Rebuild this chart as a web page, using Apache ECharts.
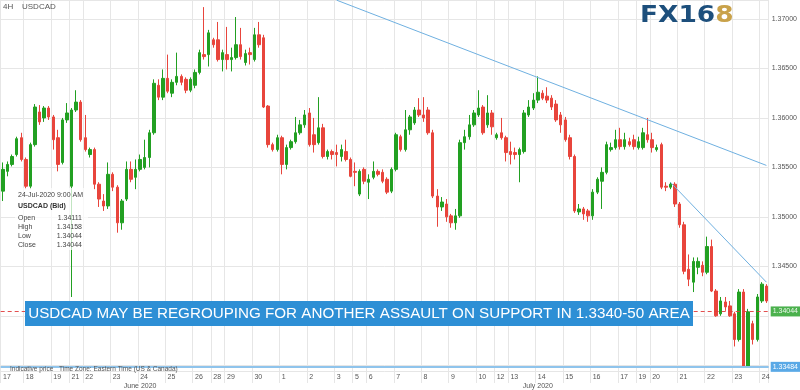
<!DOCTYPE html>
<html><head><meta charset="utf-8">
<script src="https://cdn.jsdelivr.net/npm/echarts/dist/echarts.min.js"></script>
<style>html,body{margin:0;padding:0;background:#fff}#c{width:800px;height:390px}</style>
</head><body><div id="c"></div>
<script>
// ---- data ----
const dayDates = ['2020-06-17','2020-06-18','2020-06-19','2020-06-21','2020-06-22','2020-06-23','2020-06-24','2020-06-25','2020-06-26','2020-06-28','2020-06-29','2020-06-30','2020-07-01','2020-07-02','2020-07-03','2020-07-05','2020-07-06','2020-07-07','2020-07-08','2020-07-09','2020-07-10','2020-07-12','2020-07-13','2020-07-14','2020-07-15','2020-07-16','2020-07-17','2020-07-19','2020-07-20','2020-07-21','2020-07-22','2020-07-23','2020-07-24'];
const dayLabels = ['17','18','19','21','22','23','24','25','26','28','29','30','1','2','3','5','6','7','8','9','10','12','13','14','15','16','17','19','20','21','22','23','24'];
const barsPerDay = [5,6,4,3,6,6,6,6,4,3,6,6,6,6,4,3,6,6,6,6,4,3,6,6,6,6,4,3,6,6,6,6,2];
const monthLabels = [['2020-06-24','June 2020'],['2020-07-14','July 2020']];
// [open, close, low, high]
const ohlc = [
[1.3526,1.3548,1.3516,1.3555],[1.3546,1.3553,1.3541,1.3556],[1.3553,1.3561,1.3551,1.3563],[1.3563,1.3579,1.3561,1.3581],[1.3580,1.3558,1.3556,1.3585],
[1.3558,1.3531,1.3528,1.3560],[1.3531,1.3573,1.3528,1.3575],[1.3573,1.3611,1.3571,1.3614],[1.3606,1.3596,1.3593,1.3613],[1.3600,1.3610,1.3596,1.3612],
[1.3610,1.3601,1.3598,1.3612],[1.3601,1.3578,1.3568,1.3603],[1.3580,1.3553,1.3546,1.3588],[1.3555,1.3598,1.3553,1.3600],[1.3598,1.3605,1.3595,1.3615],
[1.3531,1.3608,1.3419,1.3610],[1.3608,1.3616,1.3606,1.3628],[1.3616,1.3578,1.3576,1.3618],[1.3580,1.3568,1.3566,1.3603],[1.3563,1.3568,1.3560,1.3570],
[1.3568,1.3533,1.3528,1.3570],[1.3533,1.3518,1.3510,1.3535],[1.3516,1.3511,1.3506,1.3523],[1.3511,1.3543,1.3508,1.3555],[1.3543,1.3530,1.3526,1.3545],
[1.3530,1.3494,1.3484,1.3532],[1.3494,1.3516,1.3487,1.3518],[1.3518,1.3548,1.3516,1.3556],[1.3548,1.3538,1.3535,1.3556],[1.3540,1.3548,1.3528,1.3558],
[1.3548,1.3558,1.3546,1.3563],[1.3550,1.3560,1.3548,1.3578],[1.3560,1.3585,1.3550,1.3588],[1.3585,1.3635,1.3583,1.3639],[1.3633,1.3621,1.3618,1.3639],
[1.3621,1.3640,1.3618,1.3649],[1.3640,1.3627,1.3625,1.3664],[1.3625,1.3636,1.3621,1.3639],[1.3636,1.3642,1.3633,1.3666],[1.3642,1.3636,1.3633,1.3644],
[1.3639,1.3628,1.3625,1.3641],[1.3628,1.3639,1.3626,1.3641],[1.3633,1.3646,1.3630,1.3649],[1.3646,1.3666,1.3644,1.3669],[1.3664,1.3662,1.3659,1.3712],
[1.3664,1.3686,1.3652,1.3689],[1.3679,1.3674,1.3671,1.3681],[1.3679,1.3659,1.3657,1.3697],[1.3659,1.3666,1.3647,1.3669],[1.3664,1.3659,1.3649,1.3692],
[1.3659,1.3661,1.3647,1.3671],[1.3661,1.3674,1.3659,1.3702],[1.3674,1.3662,1.3659,1.3691],[1.3656,1.3665,1.3653,1.3669],[1.3666,1.3664,1.3654,1.3671],
[1.3659,1.3684,1.3657,1.3691],[1.3684,1.3674,1.3671,1.3697],[1.3681,1.3611,1.3610,1.3684],[1.3612,1.3573,1.3570,1.3613],[1.3573,1.3568,1.3566,1.3575],
[1.3568,1.3580,1.3566,1.3583],[1.3580,1.3553,1.3543,1.3582],[1.3553,1.3570,1.3548,1.3573],[1.3570,1.3576,1.3568,1.3578],[1.3576,1.3585,1.3574,1.3601],
[1.3585,1.3593,1.3583,1.3598],[1.3593,1.3603,1.3590,1.3608],[1.3605,1.3573,1.3571,1.3610],[1.3583,1.3573,1.3565,1.3600],[1.3575,1.3590,1.3573,1.3621],
[1.3590,1.3561,1.3559,1.3594],[1.3561,1.3566,1.3558,1.3568],[1.3566,1.3563,1.3558,1.3568],[1.3565,1.3563,1.3551,1.3573],[1.3561,1.3568,1.3556,1.3573],
[1.3566,1.3558,1.3556,1.3578],[1.3558,1.3541,1.3540,1.3560],[1.3546,1.3545,1.3531,1.3555],[1.3523,1.3546,1.3521,1.3548],[1.3548,1.3536,1.3533,1.3550],
[1.3535,1.3538,1.3518,1.3543],[1.3540,1.3546,1.3538,1.3556],[1.3546,1.3543,1.3541,1.3548],[1.3545,1.3536,1.3534,1.3548],[1.3538,1.3525,1.3523,1.3540],
[1.3526,1.3548,1.3524,1.3550],[1.3548,1.3583,1.3546,1.3585],[1.3581,1.3568,1.3566,1.3583],[1.3568,1.3588,1.3566,1.3608],[1.3588,1.3601,1.3583,1.3603],
[1.3595,1.3608,1.3593,1.3611],[1.3608,1.3603,1.3601,1.3620],[1.3603,1.3600,1.3596,1.3621],[1.3608,1.3585,1.3583,1.3611],[1.3585,1.3521,1.3519,1.3588],
[1.3521,1.3510,1.3490,1.3528],[1.3510,1.3515,1.3506,1.3520],[1.3513,1.3500,1.3495,1.3518],[1.3501,1.3494,1.3489,1.3503],[1.3494,1.3501,1.3487,1.3508],
[1.3501,1.3575,1.3499,1.3578],[1.3575,1.3581,1.3568,1.3588],[1.3581,1.3593,1.3578,1.3603],[1.3593,1.3605,1.3591,1.3608],[1.3603,1.3610,1.3601,1.3628],
[1.3611,1.3585,1.3583,1.3613],[1.3593,1.3605,1.3590,1.3623],[1.3605,1.3591,1.3583,1.3608],[1.3580,1.3583,1.3578,1.3585],[1.3585,1.3580,1.3578,1.3600],
[1.3580,1.3565,1.3556,1.3582],[1.3566,1.3563,1.3553,1.3576],[1.3565,1.3563,1.3558,1.3570],[1.3563,1.3568,1.3535,1.3570],[1.3566,1.3605,1.3564,1.3608],
[1.3603,1.3611,1.3601,1.3618],[1.3610,1.3618,1.3608,1.3625],[1.3618,1.3626,1.3615,1.3642],[1.3625,1.3620,1.3618,1.3628],[1.3622,1.3618,1.3615,1.3631],
[1.3620,1.3611,1.3608,1.3623],[1.3614,1.3598,1.3596,1.3618],[1.3603,1.3593,1.3585,1.3606],[1.3598,1.3578,1.3576,1.3601],[1.3580,1.3561,1.3558,1.3583],
[1.3561,1.3506,1.3504,1.3563],[1.3505,1.3508,1.3502,1.3513],[1.3508,1.3503,1.3497,1.3510],[1.3506,1.3501,1.3495,1.3508],[1.3501,1.3525,1.3497,1.3528],
[1.3525,1.3538,1.3523,1.3540],[1.3536,1.3545,1.3508,1.3550],[1.3545,1.3573,1.3543,1.3576],[1.3568,1.3570,1.3566,1.3575],[1.3570,1.3578,1.3568,1.3588],
[1.3578,1.3571,1.3568,1.3590],[1.3571,1.3578,1.3568,1.3585],[1.3576,1.3573,1.3571,1.3580],[1.3578,1.3571,1.3568,1.3583],[1.3570,1.3576,1.3568,1.3581],
[1.3570,1.3585,1.3568,1.3590],[1.3583,1.3578,1.3575,1.3600],[1.3578,1.3570,1.3565,1.3585],[1.3568,1.3570,1.3566,1.3573],[1.3573,1.3530,1.3528,1.3575],
[1.3531,1.3530,1.3526,1.3535],[1.3530,1.3533,1.3528,1.3535],[1.3533,1.3513,1.3510,1.3535],[1.3513,1.3492,1.3489,1.3515],[1.3492,1.3445,1.3442,1.3495],
[1.3447,1.3437,1.3430,1.3462],[1.3434,1.3455,1.3424,1.3459],[1.3449,1.3455,1.3442,1.3459],[1.3451,1.3444,1.3440,1.3455],[1.3444,1.3470,1.3442,1.3480],
[1.3470,1.3425,1.3424,1.3477],[1.3425,1.3400,1.3399,1.3427],[1.3402,1.3415,1.3400,1.3419],[1.3414,1.3409,1.3405,1.3419],[1.3410,1.3400,1.3399,1.3415],
[1.3402,1.3376,1.3369,1.3404],[1.3376,1.3424,1.3374,1.3427],[1.3424,1.3349,1.33484,1.3427],[1.3349,1.3404,1.3350,1.3407],[1.3392,1.3376,1.3371,1.3395],
[1.3376,1.3419,1.3374,1.3422],[1.3415,1.3432,1.3413,1.3434],[1.3430,1.3415,1.3413,1.3432]
];
const currentPrice = 1.34044;
const lowPrice = 1.33484;
const trendLine1 = [[73, 1.3719], [167, 1.3552]];
const trendLine2 = [[146, 1.3535], [167, 1.3434]];
const infoTitle = '24-Jul-2020 9:00 AM';
const infoSymbol = 'USDCAD (Bid)';
const infoLabels = ['Open','High','Low','Close'];
const infoValues = ['1.34111','1.34158','1.34044','1.34044'];
const bannerText = 'USDCAD MAY BE REGROUPING FOR ANOTHER ASSAULT ON SUPPORT IN 1.3340-50 AREA';

// ---- build ----
const categories = [];
const labelAt = {};
let s = 0;
dayDates.forEach((d, k) => {
  labelAt[s] = dayLabels[k];
  for (let j = 0; j < barsPerDay[k]; j++) categories.push(d + ' ' + j);
  s += barsPerDay[k];
});
const monthAt = {};
monthLabels.forEach(([d, t]) => { monthAt[categories.indexOf(d + ' 0')] = t; });

const FONT = '"Liberation Sans", Arial, sans-serif';
const GRID = '#e6e6e6';
const isDayStart = (i) => labelAt[i] !== undefined;

const chart = echarts.init(document.getElementById('c'), null, {renderer: 'canvas'});
const lbl = (x, y, text, extra, z) => ({type: 'text', x, y, z: z || 60, silent: true, style: Object.assign({text, fill: '#555', font: '7px ' + FONT}, extra || {})});

const graphic = [
  lbl(3, 3, '4H', {font: '8px ' + FONT}),
  lbl(22, 3, 'USDCAD', {font: '8px ' + FONT}),
  {type: 'text', x: 640, y: 5, z: 60, scaleX: 1.15, silent: true, style: {
    text: '{a|FX16}{b|8}', rich: {
      a: {fill: '#1d4f7c', font: 'bold 23px "DejaVu Sans", sans-serif'},
      b: {fill: '#c9a24a', font: 'bold 23px "DejaVu Sans", sans-serif'}
    }}},
  {type: 'rect', z: 55, silent: true, shape: {x: 15, y: 188, width: 73, height: 62}, style: {fill: 'rgba(255,255,255,0.72)'}},
  lbl(18, 192, infoTitle, {fill: '#444'}),
  lbl(18, 203, infoSymbol, {fill: '#333', font: 'bold 7px ' + FONT})
];
infoLabels.forEach((t, k) => {
  graphic.push(lbl(18, 215 + k * 9, t, {fill: '#444'}));
  graphic.push(lbl(82, 215 + k * 9, infoValues[k], {fill: '#444', textAlign: 'right'}));
});
graphic.push({type: 'rect', z: 70, silent: true, shape: {x: 25, y: 301, width: 668, height: 25}, style: {fill: '#2d8fd5'}});
graphic.push({type: 'text', z: 71, x: 359, y: 313.5, silent: true, style: {text: bannerText, fill: '#fff', font: '15.2px ' + FONT, textAlign: 'center', textVerticalAlign: 'middle'}});
graphic.push(lbl(10, 366, 'Indicative price', {font: '6.5px ' + FONT}));
graphic.push(lbl(59, 366, 'Time Zone: Eastern Time (US & Canada)', {font: '6.5px ' + FONT}));

const option = {
  animation: false,
  backgroundColor: '#fff',
  grid: {left: 0.7, right: 27, top: 0, bottom: 18},
  xAxis: [{
    type: 'category', data: categories, boundaryGap: true,
    axisLine: {show: false},
    axisTick: {show: true, interval: (i) => isDayStart(i), length: 12, lineStyle: {color: GRID}},
    splitLine: {show: true, interval: (i) => isDayStart(i), lineStyle: {color: GRID, width: 1}},
    axisLabel: {interval: (i) => isDayStart(i), formatter: (v, i) => labelAt[i] || '', align: 'left',
      fontSize: 7, fontFamily: FONT, color: '#555', margin: 3}
  }, {
    type: 'category', data: categories, boundaryGap: true, position: 'bottom',
    axisLine: {show: false}, axisTick: {show: false}, splitLine: {show: false},
    axisLabel: {interval: (i) => monthAt[i] !== undefined, formatter: (v, i) => monthAt[i] || '',
      fontSize: 7, fontFamily: FONT, color: '#555', margin: 12}
  }],
  yAxis: {
    type: 'value', position: 'right', min: 1.33442, max: 1.37192, splitNumber: 7,
    axisLine: {show: false}, axisTick: {show: false},
    splitLine: {lineStyle: {color: GRID}},
    axisLabel: {showMinLabel: false, showMaxLabel: false, fontSize: 7, fontFamily: FONT, color: '#555', margin: 3,
      formatter: (v) => (Math.abs(v - currentPrice) < 0.0007 || Math.abs(v - lowPrice) < 0.0007) ? '' : v.toFixed(5)}
  },
  series: [{
    type: 'candlestick', data: ohlc, barWidth: 3, silent: true,
    itemStyle: {color: '#22a022', color0: '#e8453c', borderColor: '#22a022', borderColor0: '#e8453c', borderWidth: 1},
    markLine: {
      silent: true, symbol: ['none', 'none'], animation: false, precision: 5,
      data: [
        {yAxis: currentPrice, lineStyle: {color: '#e03c3c', type: [4, 3], width: 1, opacity: 0.9},
          label: {show: true, position: 'end', distance: 2, formatter: () => currentPrice.toFixed(5),
            backgroundColor: '#37a93a', color: '#fff', padding: [2, 2, 1, 2], fontSize: 7, fontFamily: FONT}},
        {yAxis: lowPrice, lineStyle: {color: '#8fc4ec', type: 'solid', width: 2},
          label: {show: true, position: 'end', distance: 2, formatter: () => lowPrice.toFixed(5),
            backgroundColor: '#5aa9e6', color: '#fff', padding: [2, 2, 1, 2], fontSize: 7, fontFamily: FONT}}
      ]
    }
  }, {
    type: 'line', data: trendLine1, symbol: 'none', silent: true, lineStyle: {color: '#6fb0e0', width: 1}
  }, {
    type: 'line', data: trendLine2, symbol: 'none', silent: true, lineStyle: {color: '#6fb0e0', width: 1}
  }],
  graphic
};
chart.setOption(option);
</script>
</body></html>
